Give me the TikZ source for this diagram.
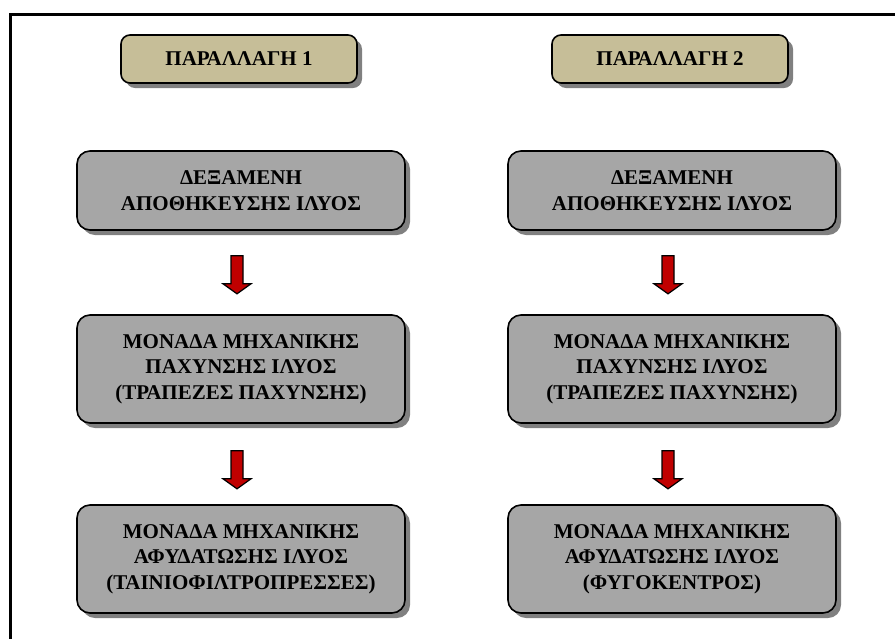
\documentclass[tikz,border=0pt]{standalone}
\usepackage{fontspec}
\setmainfont{Liberation Serif}
\usetikzlibrary{shadows,calc}

\definecolor{tanfill}{RGB}{198,190,152}
\definecolor{boxgray}{RGB}{166,166,166}
\definecolor{shadowgray}{RGB}{128,128,128}
\definecolor{arrowred}{RGB}{192,0,0}

\begin{document}
\begin{tikzpicture}[x=1pt,y=-1pt,
  boxshadow/.style={drop shadow={shadow xshift=5pt, shadow yshift=-5pt, fill=shadowgray, opacity=1}},
  header/.style={draw=black, line width=1.6pt, fill=tanfill, rounded corners=9pt,
    minimum width=236pt, minimum height=48pt, inner sep=0pt,
    font=\bfseries\fontsize{21}{25}\selectfont, boxshadow},
  stage/.style={draw=black, line width=1.6pt, fill=boxgray, rounded corners=13pt,
    minimum width=328pt, inner sep=0pt, align=center,
    font=\bfseries\fontsize{21}{25.5}\selectfont, boxshadow},
  twoline/.style={stage, minimum height=79pt},
  threeline/.style={stage, minimum height=108pt},
  blockarrow/.style={draw=black, line width=1.2pt, fill=arrowred, line join=miter}
]
% page extent
\useasboundingbox (0,0) rectangle (895,638);

% outer frame, only its top and left sides fall on the page
\draw[line width=3pt] (10,640) -- (10,14) -- (897,14);

% column headings
\node[header] (h1) at (239,59) {ΠΑΡΑΛΛΑΓΗ 1};
\node[header] (h2) at (670,59) {ΠΑΡΑΛΛΑΓΗ 2};

% first column
\node[twoline]   (a1) at (241,190.5) {ΔΕΞΑΜΕΝΗ\\ΑΠΟΘΗΚΕΥΣΗΣ ΙΛΥΟΣ};
\node[threeline] (b1) at (241,369)   {ΜΟΝΑΔΑ ΜΗΧΑΝΙΚΗΣ\\ΠΑΧΥΝΣΗΣ ΙΛΥΟΣ\\(ΤΡΑΠΕΖΕΣ ΠΑΧΥΝΣΗΣ)};
\node[threeline] (c1) at (241,559)   {ΜΟΝΑΔΑ ΜΗΧΑΝΙΚΗΣ\\ΑΦΥΔΑΤΩΣΗΣ ΙΛΥΟΣ\\(ΤΑΙΝΙΟΦΙΛΤΡΟΠΡΕΣΣΕΣ)};

% second column
\node[twoline]   (a2) at (672,190.5) {ΔΕΞΑΜΕΝΗ\\ΑΠΟΘΗΚΕΥΣΗΣ ΙΛΥΟΣ};
\node[threeline] (b2) at (672,369)   {ΜΟΝΑΔΑ ΜΗΧΑΝΙΚΗΣ\\ΠΑΧΥΝΣΗΣ ΙΛΥΟΣ\\(ΤΡΑΠΕΖΕΣ ΠΑΧΥΝΣΗΣ)};
\node[threeline] (c2) at (672,559)   {ΜΟΝΑΔΑ ΜΗΧΑΝΙΚΗΣ\\ΑΦΥΔΑΤΩΣΗΣ ΙΛΥΟΣ\\(ΦΥΓΟΚΕΝΤΡΟΣ)};

% red block arrows: shaft 12 wide, head 28 wide, 38 long overall
\newcommand{\downarrowbox}[2]{%
  \draw[blockarrow] ($(#1.south)+(-4,#2)$) ++(-6,0) -- ++(12,0) -- ++(0,28)
    -- ++(8,0) -- ++(-14,10) -- ++(-14,-10) -- ++(8,0) -- cycle;}
\downarrowbox{a1}{25}
\downarrowbox{b1}{27}
\downarrowbox{a2}{25}
\downarrowbox{b2}{27}
\end{tikzpicture}
\end{document}
